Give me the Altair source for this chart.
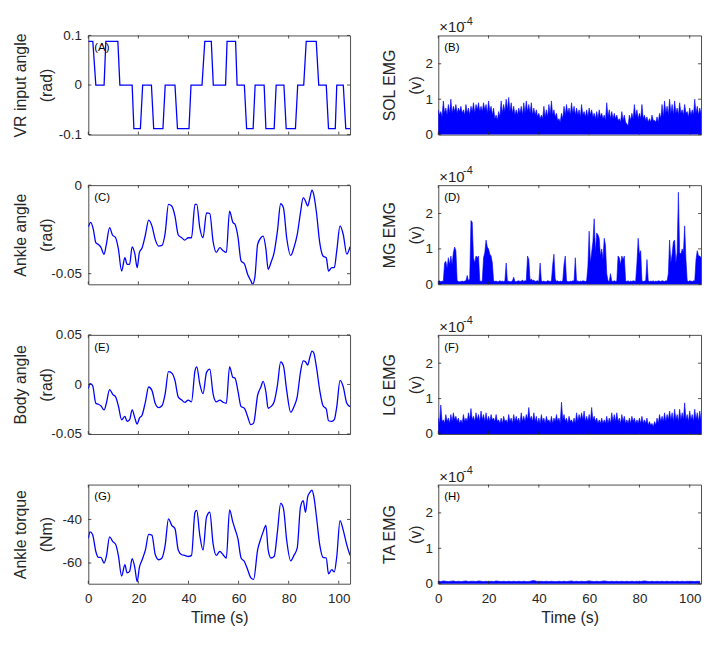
import altair as alt
import pandas as pd

FONT = "Liberation Sans"
TXT = "#262626"
BLUE = "#0000ff"
W, H = 264, 100
TICK = 3
T_MAX = 104.5
X_TICKS = [0, 20, 40, 60, 80, 100]

# (A) VR input angle: corner points of the trapezoid steps
vr_t = [0, 1.8, 3.0, 6.3, 7.0, 11.8, 12.6, 17.5, 18.2, 20.8, 21.7, 25.2, 26.1, 29.8, 30.7,
        34.6, 35.6, 40.2, 41.0, 45.4, 46.5, 49.1, 49.9, 54.8, 55.4, 58.8, 59.4, 62.3, 63.2,
        65.8, 66.6, 70.2, 70.9, 74.2, 75.0, 78.1, 79.0, 82.7, 83.6, 86.0, 87.0, 91.0, 92.0,
        95.0, 95.9, 98.6, 99.2, 101.8, 102.8, 104.5]
vr_v = [0.088, 0.088, 0, 0, 0.088, 0.088, 0, 0, -0.088, -0.088, 0, 0, -0.088, -0.088, 0, 0,
        -0.088, -0.088, 0, 0, 0.088, 0.088, 0, 0, 0.088, 0.088, 0, 0, -0.088, -0.088, 0, 0,
        -0.088, -0.088, 0, 0, -0.088, -0.088, 0, 0, 0.088, 0.088, 0, 0, -0.088, -0.088, 0, 0,
        -0.088, -0.088]

# (C) Ankle angle (rad)
ank_t = [0, 1, 2, 3, 4, 5, 6.3, 7.2, 8.5, 9.6, 10.9, 12, 13.3, 14.6, 15.5, 16.5, 17.5, 18.6,
         19.5, 20.4, 21.5, 22.8, 24.1, 25.4, 26.7, 28.1, 29.4, 30.7, 32, 33.3, 34.6, 35.9,
         37.3, 38.5, 39.9, 41.2, 42.6, 43.3, 44.5, 45.8, 47.2, 48.5, 49.8, 51.1, 52.5, 53.8,
         55.1, 56.4, 57.7, 58.6, 59.7, 61, 62.3, 63.6, 64.9, 65.6, 66.5, 67.6, 68.9, 69.8,
         70.9, 71.8, 72.9, 74.2, 75.5, 76.8, 77.9, 79.2, 80.8, 82.1, 83.4, 84.7, 85.8, 86.7,
         87.6, 88.4, 89.3, 90, 91.1, 92.4, 93.7, 95, 95.9, 97.2, 98.2, 99.2, 100.5, 101.8,
         103.2, 104.5]
ank_v = [-0.0235, -0.021, -0.025, -0.0325, -0.0335, -0.035, -0.039, -0.0335, -0.024, -0.028,
         -0.0297, -0.036, -0.0485, -0.041, -0.0447, -0.0447, -0.0348, -0.039, -0.0466, -0.038,
         -0.0353, -0.028, -0.0197, -0.023, -0.0306, -0.0344, -0.034, -0.0269, -0.0109, -0.0118,
         -0.0175, -0.028, -0.0297, -0.031, -0.0297, -0.0297, -0.0109, -0.0109, -0.024, -0.0297,
         -0.0156, -0.016, -0.0316, -0.038, -0.0353, -0.037, -0.038, -0.0147, -0.021, -0.0222,
         -0.0288, -0.0428, -0.0444, -0.0503, -0.054, -0.056, -0.052, -0.0335, -0.0297, -0.0288,
         -0.036, -0.0475, -0.0438, -0.038, -0.026, -0.0105, -0.0128, -0.0297, -0.0397, -0.0353,
         -0.028, -0.0156, -0.0071, -0.009, -0.0118, -0.0077, -0.0028, -0.0053, -0.0156, -0.0325,
         -0.04, -0.041, -0.0485, -0.0466, -0.0466, -0.037, -0.023, -0.028, -0.039, -0.0348]

# time stamps shared by (E) body angle and (G) ankle torque
eg_t = [0, 0.7, 1.7, 3, 4, 5, 6.3, 7.2, 8.5, 9.8, 10.9, 12, 13.3, 14.6, 15.5, 16.5, 17.5, 18.6,
        19.5, 20.4, 21.5, 22.8, 24.1, 25.4, 26.7, 28.1, 29.4, 30.7, 32, 33.3, 34.6, 35.9, 37.3,
        38.5, 39.9, 41.2, 42.6, 43.3, 44.5, 45.8, 47.2, 48.5, 49.8, 51.1, 52.5, 53.8, 55.1,
        56.4, 57.7, 58.6, 59.7, 61, 62.3, 63.6, 64.9, 66, 67.6, 68.9, 69.8, 70.9, 71.8, 72.9,
        74.2, 75.5, 76.8, 77.9, 79.2, 80.8, 82.1, 83.4, 84.7, 85.8, 86.7, 87.6, 88.4, 89.3, 90,
        91.1, 92.4, 93.7, 95, 95.9, 97.2, 98.2, 99.2, 100.5, 101.8, 103.2, 104.5]
body_v = [-0.0043, 0.0007, -0.001, -0.019, -0.020, -0.0215, -0.0257, -0.019, -0.0053, -0.0102,
          -0.0125, -0.0215, -0.0356, -0.0323, -0.0373, -0.0356, -0.0257, -0.034, -0.040, -0.034,
          -0.0307, -0.0175, -0.0026, -0.006, -0.019, -0.0234, -0.0215, -0.0092, 0.0129, 0.0116,
          0.004, -0.0125, -0.0158, -0.018, -0.0158, -0.0175, 0.0139, 0.0178, 0.0007, -0.0092,
          0.0122, 0.0155, -0.0092, -0.0175, -0.0158, -0.018, -0.019, 0.0178, 0.0073, 0.0063,
          -0.006, -0.0224, -0.024, -0.0323, -0.0406, -0.039, -0.0109, -0.0026, 0.003, -0.0076,
          -0.024, -0.0224, -0.0175, -0.001, 0.0228, 0.0188, -0.006, -0.028, -0.0224, -0.0125,
          0.0122, 0.0238, 0.0228, 0.0195, 0.0271, 0.0337, 0.032, 0.0172, -0.006, -0.0215,
          -0.0248, -0.0366, -0.0373, -0.0356, -0.0224, 0.004, -0.0026, -0.019, -0.0224]
torque_v = [-48.7, -45.7, -46.9, -54.7, -57.4, -57.4, -60, -57, -48, -50.2,
            -51.4, -56.5, -66, -60.8, -64.5, -63.8, -58, -62.3, -68.6, -62,
            -58.5, -54, -46.9, -47.2, -56, -58.5, -57.7, -51.7, -39.7, -42.7,
            -44.2, -54, -56.2, -56.5, -57, -56.5, -36.7, -35.9, -47.2, -54,
            -38.9, -36.7, -51, -56.5, -54.7, -56.2, -57.7, -35.6, -41.2, -44.5,
            -48.7, -57.7, -59.3, -63, -66.8, -67.5, -54, -48.7, -45.7, -42.7,
            -54, -57.7, -57, -45.7, -32.6, -34.9, -49.5, -59, -56.5, -53.2,
            -34.4, -31.4, -36.7, -29.5, -27.7, -26.5, -29.2, -38.9, -51.7, -57.4,
            -57.7, -65, -63, -64.1, -57, -40.5, -45, -51.7, -56.5]

# EMG peak amplitudes (x 1e-4 V), one value every 0.5 s from 0 to 104.5 s
EMG_STEP = 0.5
sol_emg = [0.70, 0.55, 0.65, 0.50, 0.95, 0.60, 0.75, 0.55, 0.85, 0.60,
           1.00, 0.60, 0.80, 0.65, 0.85, 0.60, 0.75, 0.65, 0.80, 0.60,
           0.70, 0.55, 0.85, 0.60, 0.75, 0.55, 0.80, 0.65, 0.90, 0.60,
           0.85, 0.70, 0.90, 0.65, 0.80, 0.65, 0.90, 0.70, 0.85, 0.60,
           0.95, 0.65, 0.80, 0.55, 0.75, 0.45, 0.55, 0.40, 0.65, 0.50,
           0.95, 0.60, 0.85, 0.65, 1.00, 0.70, 1.05, 0.65, 0.90, 0.60,
           0.80, 0.55, 0.70, 0.55, 0.75, 0.60, 0.80, 0.55, 0.90, 0.60,
           0.95, 0.65, 0.85, 0.60, 0.90, 0.55, 0.75, 0.55, 0.70, 0.50,
           0.60, 0.45, 0.55, 0.45, 0.80, 0.50, 0.70, 0.50, 0.85, 0.55,
           0.95, 0.55, 0.70, 0.50, 0.60, 0.40, 0.45, 0.35, 0.60, 0.45,
           0.80, 0.55, 0.85, 0.60, 0.75, 0.55, 0.90, 0.60, 0.80, 0.55,
           0.75, 0.55, 0.70, 0.50, 0.85, 0.55, 0.65, 0.50, 0.70, 0.50,
           0.75, 0.55, 0.70, 0.50, 0.60, 0.45, 0.65, 0.45, 0.70, 0.50,
           0.60, 0.45, 0.55, 0.40, 0.90, 0.50, 0.70, 0.45, 0.65, 0.45,
           0.60, 0.45, 0.55, 0.40, 0.45, 0.35, 0.65, 0.40, 0.55, 0.35,
           0.30, 0.25, 0.55, 0.40, 0.60, 0.45, 0.85, 0.50, 0.70, 0.45,
           0.60, 0.45, 0.85, 0.45, 0.55, 0.40, 0.50, 0.35, 0.45, 0.35,
           0.55, 0.40, 0.40, 0.35, 0.50, 0.35, 0.60, 0.45, 0.85, 0.50,
           0.95, 0.60, 0.80, 0.55, 1.00, 0.60, 0.85, 0.55, 0.95, 0.60,
           0.75, 0.55, 0.90, 0.60, 0.70, 0.55, 0.85, 0.60, 0.65, 0.50,
           0.75, 0.55, 0.70, 0.55, 1.00, 0.60, 0.80, 0.55, 0.75, 0.60]
mg_emg = [0.08, 0.10, 0.07, 0.09, 0.08, 0.60, 0.65, 0.45, 0.75, 0.55,
          0.80, 0.55, 0.90, 1.05, 0.95, 0.10, 0.08, 0.07, 0.08, 0.09,
          0.08, 0.09, 0.10, 0.25, 0.10, 0.15, 1.80, 1.75, 0.75, 0.60,
          0.80, 0.75, 0.80, 0.10, 0.08, 0.10, 0.75, 0.90, 1.25, 1.05,
          1.00, 0.85, 0.80, 0.60, 0.10, 0.08, 0.09, 0.07, 0.08, 0.10,
          0.08, 0.09, 0.07, 0.10, 0.60, 0.08, 0.09, 0.07, 0.08, 0.10,
          0.20, 0.08, 0.07, 0.09, 0.10, 0.08, 0.09, 0.12, 0.08, 0.10,
          0.10, 0.80, 0.70, 0.12, 0.15, 0.10, 0.12, 0.08, 0.09, 0.10,
          0.08, 0.60, 0.10, 0.08, 0.09, 0.07, 0.08, 0.10, 0.09, 0.08,
          0.10, 0.55, 0.85, 0.15, 0.08, 0.10, 0.07, 0.09, 0.08, 0.10,
          0.55, 0.80, 0.10, 0.08, 0.07, 0.09, 0.08, 0.10, 0.09, 0.75,
          0.08, 0.10, 0.07, 0.09, 0.08, 0.10, 0.09, 0.08, 0.10, 0.50,
          1.50, 0.60, 0.90, 1.20, 1.85, 0.90, 1.45, 1.40, 1.30, 0.80,
          1.00, 0.70, 1.30, 1.10, 0.30, 0.10, 0.08, 0.30, 0.09, 0.08,
          0.10, 0.08, 0.09, 0.80, 0.75, 0.55, 0.80, 0.70, 0.80, 0.10,
          0.08, 0.10, 0.07, 0.09, 0.08, 0.10, 0.09, 0.08, 0.60, 1.30,
          0.85, 0.95, 0.10, 0.08, 0.09, 0.10, 0.70, 0.10, 0.08, 0.09,
          0.08, 0.10, 0.07, 0.09, 0.08, 0.10, 0.09, 0.08, 0.10, 0.09,
          0.08, 0.10, 0.09, 0.30, 1.25, 0.60, 0.85, 1.20, 1.25, 0.60,
          0.90, 2.60, 0.90, 0.85, 1.00, 0.90, 1.65, 0.70, 0.10, 0.08,
          0.10, 0.09, 0.08, 0.10, 0.09, 0.70, 0.95, 0.80, 0.80, 0.75]
lg_emg = [0.45, 0.30, 0.82, 0.35, 0.40, 0.30, 0.55, 0.35, 0.45, 0.30,
          0.55, 0.35, 0.60, 0.40, 0.50, 0.35, 0.45, 0.30, 0.40, 0.30,
          0.55, 0.35, 0.45, 0.35, 0.60, 0.40, 0.72, 0.40, 0.50, 0.35,
          0.60, 0.40, 0.55, 0.35, 0.65, 0.40, 0.55, 0.35, 0.60, 0.35,
          0.50, 0.35, 0.55, 0.40, 0.45, 0.35, 0.55, 0.35, 0.40, 0.30,
          0.45, 0.30, 0.50, 0.35, 0.40, 0.30, 0.55, 0.35, 0.45, 0.30,
          0.55, 0.35, 0.50, 0.35, 0.45, 0.30, 0.60, 0.35, 0.50, 0.35,
          0.55, 0.40, 0.75, 0.40, 0.50, 0.35, 0.60, 0.35, 0.50, 0.30,
          0.45, 0.30, 0.55, 0.35, 0.45, 0.30, 0.50, 0.35, 0.40, 0.30,
          0.50, 0.30, 0.45, 0.35, 0.55, 0.35, 0.45, 0.30, 0.90, 0.40,
          0.55, 0.35, 0.45, 0.30, 0.50, 0.35, 0.40, 0.30, 0.45, 0.30,
          0.60, 0.35, 0.55, 0.40, 0.60, 0.40, 0.65, 0.35, 0.50, 0.35,
          0.55, 0.35, 0.75, 0.40, 0.50, 0.35, 0.45, 0.30, 0.40, 0.30,
          0.45, 0.30, 0.40, 0.30, 0.50, 0.30, 0.45, 0.30, 0.60, 0.35,
          0.55, 0.35, 0.60, 0.35, 0.45, 0.30, 0.55, 0.35, 0.50, 0.30,
          0.40, 0.30, 0.45, 0.30, 0.50, 0.35, 0.45, 0.30, 0.40, 0.30,
          0.45, 0.30, 0.50, 0.30, 0.40, 0.30, 0.45, 0.25, 0.35, 0.25,
          0.30, 0.20, 0.35, 0.25, 0.45, 0.30, 0.55, 0.35, 0.50, 0.35,
          0.60, 0.35, 0.55, 0.40, 0.65, 0.40, 0.60, 0.35, 0.70, 0.40,
          0.55, 0.35, 0.70, 0.40, 0.60, 0.40, 0.88, 0.40, 0.55, 0.35,
          0.65, 0.40, 0.55, 0.35, 0.70, 0.40, 0.60, 0.35, 0.65, 0.40]
# TA EMG, one value per second
TA_STEP = 1.0
ta_emg = [0.07, 0.06, 0.08, 0.07, 0.06, 0.07, 0.08, 0.06, 0.07, 0.06,
          0.07, 0.08, 0.06, 0.07, 0.07, 0.06, 0.08, 0.07, 0.06, 0.07,
          0.06, 0.07, 0.06, 0.08, 0.07, 0.06, 0.07, 0.06, 0.07, 0.06,
          0.07, 0.06, 0.07, 0.06, 0.07, 0.06, 0.06, 0.08, 0.09, 0.07,
          0.06, 0.07, 0.06, 0.07, 0.06, 0.07, 0.06, 0.06, 0.07, 0.06,
          0.07, 0.06, 0.07, 0.08, 0.06, 0.07, 0.06, 0.07, 0.06, 0.07,
          0.08, 0.07, 0.06, 0.07, 0.06, 0.07, 0.08, 0.07, 0.06, 0.07,
          0.06, 0.07, 0.06, 0.07, 0.06, 0.07, 0.06, 0.07, 0.06, 0.07,
          0.06, 0.07, 0.08, 0.07, 0.06, 0.07, 0.06, 0.07, 0.06, 0.07,
          0.06, 0.07, 0.06, 0.07, 0.06, 0.07, 0.06, 0.07, 0.06, 0.07,
          0.06, 0.07, 0.06, 0.07, 0.07]

LEXPR = "replace(format(datum.value, '~g'), '\u2212', '-')"


def xenc(show):
    ax = None
    if show:
        ax = alt.Axis(values=X_TICKS, title="Time (s)", labelPadding=8, titlePadding=5,
                      labelFlush=False)
    return alt.X("t:Q", scale=alt.Scale(domain=[0, T_MAX], nice=False, zero=False), axis=ax)


def yenc(domain, values, title, extent, tpad, lpad):
    return alt.Y("v:Q", scale=alt.Scale(domain=domain, nice=False, zero=False),
                 axis=alt.Axis(values=values, title=title, labelExpr=LEXPR, labelPadding=lpad,
                               minExtent=extent, maxExtent=extent, titlePadding=tpad,
                               titleLineHeight=26))


def panel(df, kind, label, show_x, domain, yticks, title, side, interp="linear"):
    width = W if side == "L" else W + 1
    xe = xenc(show_x)
    if side == "L":
        ye = yenc(domain, yticks, title, 31, 3, 7)
    else:
        ye = yenc(domain, yticks, title, 13, 2, 6)
    if kind == "line":
        main = alt.Chart(df).mark_line(color=BLUE, strokeWidth=1.3, clip=True,
                                       interpolate=interp).encode(x=xe, y=ye)
    else:
        main = alt.Chart(df).mark_area(color=BLUE, opacity=1, clip=True,
                                       stroke=BLUE, strokeWidth=0.6).encode(
            x=xe, y=ye, y2=alt.Y2("z:Q"))
    ytk = pd.DataFrame({"v": yticks})
    xtk = pd.DataFrame({"t": X_TICKS})
    tk = dict(color=TXT, strokeWidth=0.8)
    t1 = alt.Chart(ytk).mark_rule(**tk).encode(y=ye, x=alt.value(0), x2=alt.value(TICK))
    t2 = alt.Chart(ytk).mark_rule(**tk).encode(y=ye, x=alt.value(width - TICK), x2=alt.value(width))
    t3 = alt.Chart(xtk).mark_rule(**tk).encode(x=xe, y=alt.value(H - TICK), y2=alt.value(H))
    t4 = alt.Chart(xtk).mark_rule(**tk).encode(x=xe, y=alt.value(0), y2=alt.value(TICK))
    one = pd.DataFrame({"k": [0]})
    lab = alt.Chart(one).mark_text(text=label, align="left", baseline="middle", fontSize=11.5,
                                   font=FONT, color="#000000").encode(x=alt.value(6), y=alt.value(13))
    col = TXT if side == "R" else "#ffffff"
    s1 = alt.Chart(one).mark_text(text="\u00d710", align="left", baseline="alphabetic",
                                  fontSize=15, font=FONT, color=col).encode(
        x=alt.value(1), y=alt.value(-3))
    s2 = alt.Chart(one).mark_text(text="-4", align="left", baseline="alphabetic",
                                  fontSize=11, font=FONT, color=col).encode(
        x=alt.value(25), y=alt.value(-11))
    return alt.layer(main, t1, t2, t3, t4, lab, s1, s2).properties(width=width, height=H)


def line_df(t, v):
    return pd.DataFrame({"t": t, "v": v})


def emg_df(v, step):
    return pd.DataFrame({"t": [i * step for i in range(len(v))], "v": v, "z": [0] * len(v)})


EMG_DOM = [0, 2.8]
EMG_TK = [0, 1, 2]
SMOOTH = "monotone"

pA = panel(line_df(vr_t, vr_v), "line", "(A)", False, [-0.1, 0.1], [-0.1, 0, 0.1],
           ["VR input angle", "(rad)"], "L")
pB = panel(emg_df(sol_emg, EMG_STEP), "emg", "(B)", False, EMG_DOM, EMG_TK,
           ["SOL EMG", "(v)"], "R")
pC = panel(line_df(ank_t, ank_v), "line", "(C)", False, [-0.056, 0.0], [-0.05, 0],
           ["Ankle angle", "(rad)"], "L", interp=SMOOTH)
pD = panel(emg_df(mg_emg, EMG_STEP), "emg", "(D)", False, EMG_DOM, EMG_TK,
           ["MG EMG", "(v)"], "R")
pE = panel(line_df(eg_t, body_v), "line", "(E)", False, [-0.05, 0.05], [-0.05, 0, 0.05],
           ["Body angle", "(rad)"], "L", interp=SMOOTH)
pF = panel(emg_df(lg_emg, EMG_STEP), "emg", "(F)", False, EMG_DOM, EMG_TK,
           ["LG EMG", "(v)"], "R")
pG = panel(line_df(eg_t, torque_v), "line", "(G)", True, [-69.5, -24], [-60, -40],
           ["Ankle torque", "(Nm)"], "L", interp=SMOOTH)
pH = panel(emg_df(ta_emg, TA_STEP), "emg", "(H)", True, EMG_DOM, EMG_TK,
           ["TA EMG", "(v)"], "R")

HS = 30
rows = [alt.hconcat(pA, pB, spacing=HS), alt.hconcat(pC, pD, spacing=HS),
        alt.hconcat(pE, pF, spacing=HS), alt.hconcat(pG, pH, spacing=HS)]

chart = alt.vconcat(*rows, spacing=23).properties(
    padding={"left": 4, "top": 4, "right": 2, "bottom": 2}
).configure(font=FONT).configure_view(stroke="#4d4d4d", strokeWidth=1).configure_axis(
    grid=False, domain=False, ticks=False, tickSize=0, labelColor=TXT, titleColor=TXT,
    labelFont=FONT, titleFont=FONT, labelFontSize=13.5, titleFontSize=16,
    titleFontWeight="normal"
)

chart.save("out.html", embed_options={"renderer": "svg", "actions": False})
